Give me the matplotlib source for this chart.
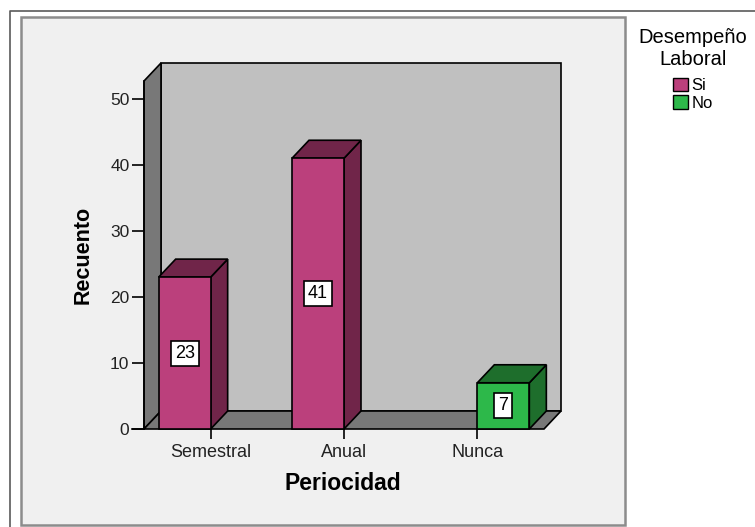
import matplotlib
matplotlib.use("Agg")
import matplotlib.pyplot as plt
from matplotlib.patches import Polygon, Rectangle, Patch
from matplotlib.lines import Line2D

plt.rcParams['font.family'] = ['Liberation Sans', 'DejaVu Sans']

# data
categorias = ['Semestral', 'Anual', 'Nunca']
si = [23, 41, 0]
no = [0, 0, 7]
grupos = ['Si', 'No']

# colours (front face, side/top face)
col_si = ('#bb407c', '#702549')
col_no = ('#2db84a', '#1e6e2c')

W, H = 755, 527
fig = plt.figure(figsize=(W / 100, H / 100), dpi=100, facecolor='white')

def fx(px):
    return px / W

def fy(py):
    return 1 - py / H

# panel frame (behind the axes)
fig.add_artist(Line2D([fx(10), fx(10), fx(755)], [fy(527), fy(11), fy(11)],
                      color='#5a5a5a', lw=1.2, zorder=-10))
fig.add_artist(Rectangle((fx(21), fy(525)), fx(625) - fx(21), fy(17) - fy(525),
                         facecolor='#f0f0f0', edgecolor='#8c8c8c', lw=1.8, zorder=-10))

# front plane of the 3d box
ax = fig.add_axes([fx(144), fy(429), fx(544) - fx(144), fy(81) - fy(429)])
ax.patch.set_visible(False)
ymax = 52.7
x0, x1 = -0.5, 2.5
ax.set_xlim(x0, x1)
ax.set_ylim(0, ymax)

# depth of the box in data units
DX = (x1 - x0) * 17 / 400
DY = ymax * 18 / 348

kw = dict(edgecolor='black', lw=1.2, clip_on=False, joinstyle='miter')
ax.add_patch(Polygon([(x0 + DX, DY), (x1 + DX, DY), (x1 + DX, ymax + DY), (x0 + DX, ymax + DY)],
                     facecolor='#c0c0c0', zorder=1, **kw))
ax.add_patch(Polygon([(x0, 0), (x0, ymax), (x0 + DX, ymax + DY), (x0 + DX, DY)],
                     facecolor='#787878', zorder=1, **kw))
ax.add_patch(Polygon([(x0, 0), (x1, 0), (x1 + DX, DY), (x0 + DX, DY)],
                     facecolor='#787878', zorder=1, **kw))

bw = 0.39

def barra(xl, v, cols):
    xr = xl + bw
    ax.add_patch(Polygon([(xr, 0), (xr + DX, DY), (xr + DX, v + DY), (xr, v)],
                         facecolor=cols[1], zorder=3, **kw))
    ax.add_patch(Polygon([(xl, v), (xr, v), (xr + DX, v + DY), (xl + DX, v + DY)],
                         facecolor=cols[1], zorder=3, **kw))
    ax.add_patch(Rectangle((xl, 0), bw, v, facecolor=cols[0], zorder=4, **kw))
    ax.text(xl + bw / 2, v / 2, str(v), ha='center', va='center', fontsize=13,
            zorder=5, bbox=dict(boxstyle='square,pad=0.22', fc='white', ec='black', lw=1.2))

for i in range(len(categorias)):
    if si[i] > 0:
        barra(i - bw, si[i], col_si)
    if no[i] > 0:
        barra(i, no[i], col_no)

for s in ['top', 'right', 'bottom']:
    ax.spines[s].set_visible(False)
ax.spines['left'].set_linewidth(1.2)
ax.spines['left'].set_zorder(2)
ax.set_yticks([0, 10, 20, 30, 40, 50])
ax.set_xticks(range(len(categorias)))
ax.set_xticklabels(categorias)
ax.tick_params(axis='y', direction='out', length=9, width=1.2, pad=1.5, labelsize=12.5,
               labelcolor='#222222')
ax.tick_params(axis='x', direction='out', length=7, width=1.2, pad=3.5, labelsize=13,
               labelcolor='#222222')
ax.plot([x0 - 12 * (x1 - x0) / 400, x0], [0, 0], color='black', lw=1.2, clip_on=False)

ax.set_ylabel('Recuento', fontsize=15.5, fontweight='bold')
ax.yaxis.label.set_va('center')
ax.yaxis.set_label_coords((83 - 144) / 400, 0.5)
ax.set_xlabel('Periocidad', fontsize=16.5, fontweight='bold')
ax.xaxis.label.set_va('center')
ax.xaxis.set_label_coords((343 - 144) / 400, (429 - 484) / 348)

handles = [Patch(facecolor=col_si[0], edgecolor='black', lw=1),
           Patch(facecolor=col_no[0], edgecolor='black', lw=1)]
leg = fig.legend(handles, grupos, title='Desempeño\nLaboral', loc='upper center',
                 bbox_to_anchor=(fx(693), fy(20)), frameon=False, fontsize=12,
                 title_fontsize=14.5, handlelength=0.9, handleheight=0.9,
                 handletextpad=0.2, labelspacing=0.1, borderpad=0)
leg.get_title().set_multialignment('center')
leg._legend_box.sep = 6

fig.savefig('out.png', dpi=100, facecolor='white')
